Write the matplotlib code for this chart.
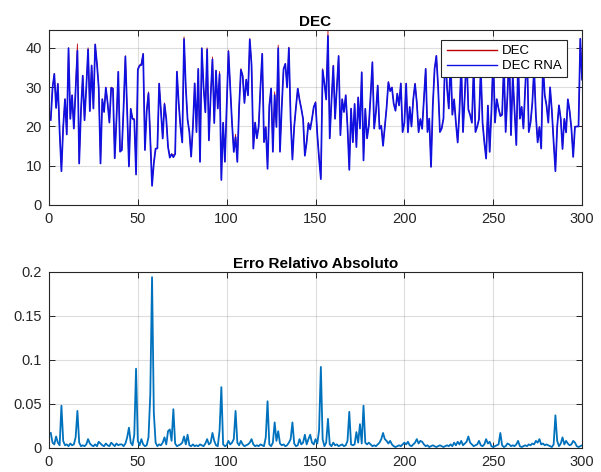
import matplotlib
matplotlib.use("Agg")
import matplotlib.pyplot as plt
import numpy as np

plt.rcParams['font.family'] = ['Liberation Sans', 'DejaVu Sans']

# valores (amostras 1..300)
dec = [
    22, 30, 33.5, 25, 31, 18.6, 9, 20, 27, 18,
    40, 22, 28, 19.5, 30, 41, 10.6, 24, 33, 21.6,
    30, 40, 24, 35.6, 24.6, 41, 36, 30, 10.6, 27,
    23.7, 30, 26, 21, 30, 29.7, 11.9, 22, 34, 13.6,
    14, 25, 38, 24, 10, 24.6, 22, 22, 8.5, 34.7,
    35.6, 36, 38.6, 14, 24, 28.8, 18, 6, 11, 14.4,
    14.4, 31, 24, 17, 26, 22, 15, 12.3, 13, 12.7,
    13, 34, 26, 20, 16, 42.8, 30, 22, 18.6, 12.3,
    20, 31, 18.6, 34.7, 11, 40, 30, 23.7, 40, 16.5,
    28, 37.7, 21, 34.3, 24.6, 34, 6.8, 21, 11, 25,
    39.4, 30, 21, 13.6, 18, 11, 25, 34.7, 33, 26,
    32, 28, 42.4, 36, 14.4, 21, 17, 20, 30, 38.6,
    16, 20, 9.7, 25.4, 29.7, 13.6, 28.8, 20, 40.7, 13.6,
    25, 34.7, 36, 30, 40.2, 22, 11.9, 20, 25, 29.7,
    27, 24.6, 22, 12.7, 16, 21, 19.5, 22, 25, 26.3,
    18, 12, 7.2, 34.7, 31, 27, 44.5, 17, 26.7, 35.6,
    22, 30, 38, 17.8, 27, 23.7, 28, 20, 9.3, 24.6,
    16, 25.8, 15, 27.5, 20, 33.9, 11.9, 24.6, 17, 20.3,
    28, 36.4, 19.5, 23.7, 30.5, 19.5, 20.3, 15.3, 20, 25,
    31.4, 29.2, 30, 25.8, 24, 28.4, 25.4, 31, 18.6, 21,
    31, 18.6, 25, 20, 27, 31, 26.3, 18.6, 22, 19.5,
    27, 34.7, 18.6, 22, 9.7, 25.4, 34.7, 38, 30, 18.6,
    19.5, 22, 40, 30, 24.6, 37, 23, 27, 21, 16,
    24, 36, 18.6, 28, 39, 24.6, 23, 21, 35, 18.6,
    20, 22, 35, 21, 16, 11.9, 25.4, 13.6, 24, 38,
    21, 27, 24.6, 23, 23, 36, 18.6, 28, 39, 17.8,
    33, 24, 15.3, 37, 22, 25, 19.5, 30, 40, 18.6,
    21, 26, 35, 23, 16, 20, 14.4, 36, 28, 25.4,
    21, 30, 24, 16, 8.9, 20, 25.4, 22, 14.4, 22,
    18.6, 27, 24, 19.5, 12.3, 20, 20, 20, 42.4, 32,
]

erro = [
    0.017, 0.006, 0.004, 0.013, 0.006, 0.003, 0.048, 0.008, 0.003, 0.004,
    0.002, 0.005, 0.003, 0.004, 0.012, 0.042, 0.006, 0.002, 0.003, 0.002,
    0.004, 0.010, 0.005, 0.003, 0.002, 0.004, 0.002, 0.007, 0.005, 0.003,
    0.002, 0.005, 0.003, 0.002, 0.006, 0.004, 0.002, 0.005, 0.003, 0.004,
    0.004, 0.002, 0.005, 0.012, 0.023, 0.006, 0.003, 0.015, 0.090, 0.008,
    0.003, 0.010, 0.004, 0.002, 0.003, 0.012, 0.060, 0.194, 0.040, 0.006,
    0.002, 0.004, 0.003, 0.006, 0.012, 0.004, 0.019, 0.021, 0.008, 0.044,
    0.005, 0.002, 0.003, 0.004, 0.006, 0.013, 0.004, 0.015, 0.003, 0.002,
    0.004, 0.002, 0.003, 0.002, 0.004, 0.003, 0.002, 0.005, 0.010, 0.004,
    0.006, 0.017, 0.008, 0.003, 0.002, 0.020, 0.069, 0.004, 0.002, 0.003,
    0.008, 0.004, 0.006, 0.010, 0.042, 0.006, 0.003, 0.008, 0.004, 0.002,
    0.003, 0.004, 0.006, 0.010, 0.004, 0.002, 0.003, 0.002, 0.004, 0.003,
    0.002, 0.012, 0.053, 0.004, 0.002, 0.006, 0.029, 0.008, 0.019, 0.005,
    0.003, 0.004, 0.002, 0.003, 0.006, 0.010, 0.029, 0.005, 0.002, 0.003,
    0.010, 0.004, 0.006, 0.015, 0.004, 0.010, 0.015, 0.006, 0.004, 0.010,
    0.005, 0.020, 0.092, 0.010, 0.002, 0.006, 0.033, 0.004, 0.002, 0.006,
    0.003, 0.004, 0.002, 0.003, 0.004, 0.002, 0.003, 0.008, 0.041, 0.004,
    0.003, 0.004, 0.018, 0.006, 0.027, 0.005, 0.048, 0.006, 0.004, 0.006,
    0.004, 0.002, 0.003, 0.002, 0.004, 0.006, 0.010, 0.017, 0.010, 0.008,
    0.005, 0.008, 0.004, 0.002, 0.001, 0.002, 0.003, 0.002, 0.004, 0.006,
    0.004, 0.007, 0.003, 0.002, 0.004, 0.006, 0.010, 0.005, 0.008, 0.007,
    0.004, 0.002, 0.003, 0.001, 0.002, 0.003, 0.002, 0.001, 0.002, 0.003,
    0.002, 0.001, 0.002, 0.003, 0.002, 0.004, 0.002, 0.006, 0.003, 0.007,
    0.004, 0.008, 0.003, 0.005, 0.007, 0.013, 0.006, 0.004, 0.002, 0.003,
    0.004, 0.008, 0.003, 0.002, 0.004, 0.010, 0.005, 0.007, 0.002, 0.001,
    0.002, 0.003, 0.004, 0.017, 0.003, 0.001, 0.002, 0.005, 0.004, 0.002,
    0.003, 0.002, 0.004, 0.008, 0.002, 0.001, 0.002, 0.003, 0.002, 0.004,
    0.003, 0.005, 0.004, 0.008, 0.006, 0.010, 0.004, 0.005, 0.003, 0.004,
    0.003, 0.002, 0.001, 0.004, 0.037, 0.008, 0.002, 0.005, 0.012, 0.004,
    0.008, 0.005, 0.003, 0.004, 0.008, 0.006, 0.002, 0.001, 0.002, 0.003,
]

amostras = np.arange(1, len(dec) + 1)
dec = np.array(dec)
erro = np.array(erro)
dec_rna = dec * (1 - erro)

cor_texto = '#262626'


def estilo_matlab(ax):
    ax.grid(True, color='#000000', alpha=0.13, linewidth=0.8)
    ax.set_axisbelow(True)
    ax.tick_params(direction='in', length=4, top=True, right=True,
                   labelsize=10.5, colors=cor_texto, width=0.7, pad=5)
    for s in ax.spines.values():
        s.set_color(cor_texto)
        s.set_linewidth(0.8)


fig = plt.figure(figsize=(6.01, 4.72), dpi=100)

# Painel superior
ax1 = fig.add_axes([0.0815, 0.566, 0.887, 0.370])
ax1.plot(amostras, dec, color='#c00000', linewidth=0.6, label='DEC')
ax1.plot(amostras, dec_rna, color='#1010e0', linewidth=1.25,
         label='DEC RNA')
ax1.set_xlim(0, 300)
ax1.set_ylim(0, dec.max())
ax1.set_xticks(np.arange(0, 301, 50))
ax1.set_yticks(np.arange(0, 41, 10))
ax1.set_title('DEC', fontsize=11, fontweight='bold', color='black', pad=3)
estilo_matlab(ax1)
leg = ax1.legend(loc='upper right', bbox_to_anchor=(0.972, 0.945),
                 borderaxespad=0, fontsize=9.5, handlelength=3.8,
                 borderpad=0.4, labelspacing=0.2, handletextpad=0.4,
                 fancybox=False, framealpha=1, edgecolor=cor_texto)
leg.get_frame().set_linewidth(0.8)
for linha in leg.get_lines():
    linha.set_linewidth(1.0)

# Painel inferior
ax2 = fig.add_axes([0.0815, 0.051, 0.887, 0.373])
ax2.plot(amostras, erro, color='#0072BD', linewidth=1.3)
ax2.set_xlim(0, 300)
ax2.set_ylim(0, 0.2)
ax2.set_xticks(np.arange(0, 301, 50))
ax2.set_yticks([0, 0.05, 0.1, 0.15, 0.2])
ax2.set_yticklabels(['0', '0.05', '0.1', '0.15', '0.2'])
ax2.set_title('Erro Relativo Absoluto', fontsize=11, fontweight='bold',
              color='black', pad=3)
estilo_matlab(ax2)

fig.savefig('out.png', dpi=100)
